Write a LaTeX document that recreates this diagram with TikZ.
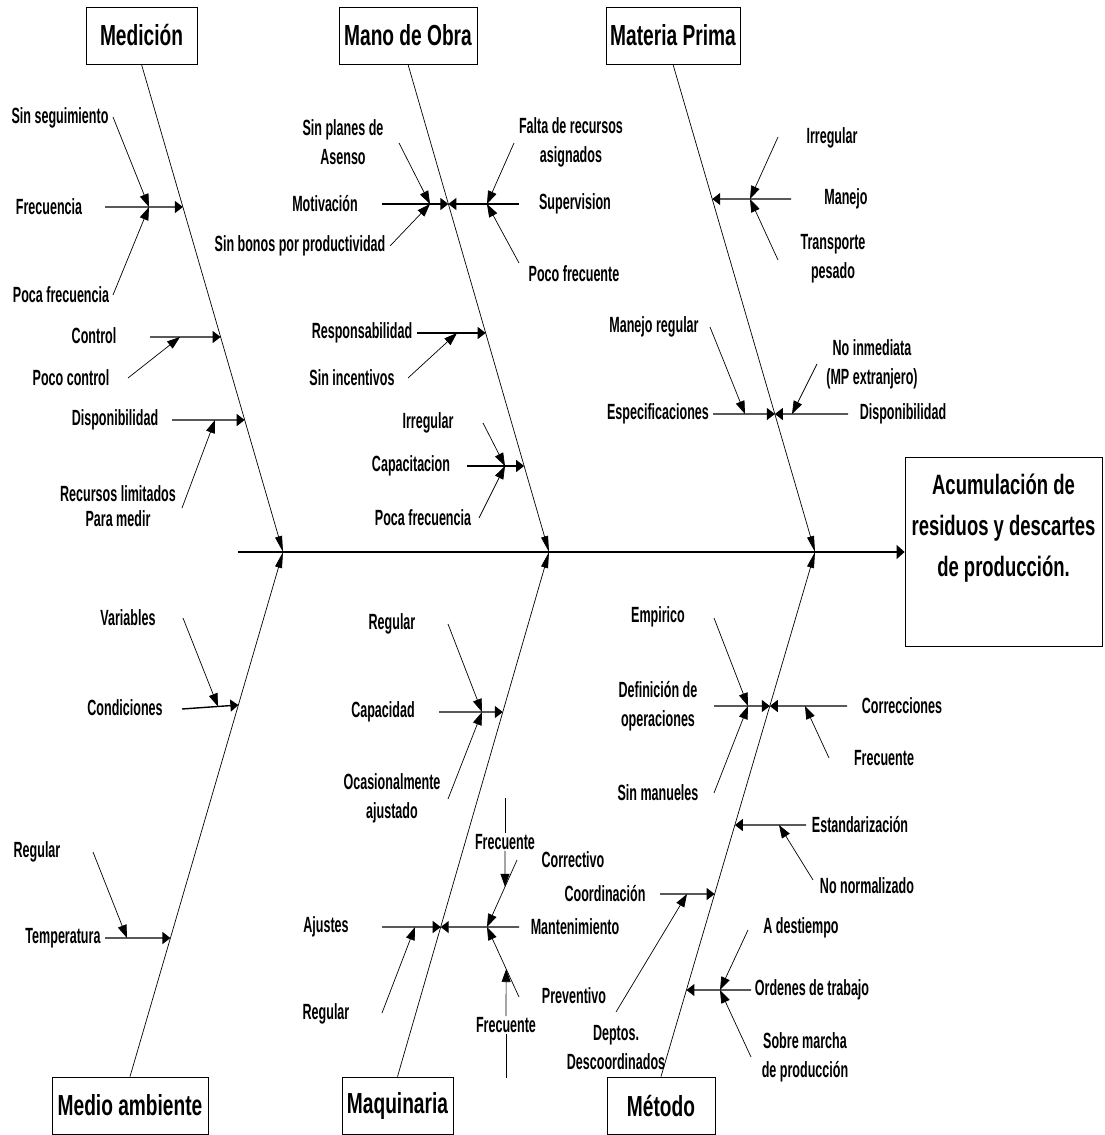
\documentclass[tikz,border=0pt]{standalone}
\usepackage{fontspec}
\setmainfont{Liberation Sans}
\newfontfamily\labelfam{Liberation Sans}[FakeStretch=0.57]
\newfontfamily\titlefam{Liberation Sans}[FakeStretch=0.66]
\usepackage{tikz}
\usetikzlibrary{arrows.meta, calc}

\begin{document}
\begin{tikzpicture}[
    x=1pt, y=-1pt,
    lbl/.style={font=\labelfam\fontsize{22}{29}\selectfont\bfseries, align=center, inner sep=1pt},
    cat/.style={draw, line width=0.8pt, minimum height=57pt, inner sep=2pt,
        font=\titlefam\fontsize{29}{30}\selectfont\bfseries},
    effbox/.style={draw, line width=0.8pt, minimum width=197pt, minimum height=189pt,
        align=center, font=\titlefam\fontsize{28}{41}\selectfont\bfseries},
    spine/.style={line width=1.4pt, -{Triangle[length=8pt,width=14pt]}},
    bone/.style={line width=0.7pt, -{Triangle[length=16pt,width=7pt]}},
    cause/.style={line width=1.4pt, -{Triangle[length=8pt,width=12pt]}},
    sub/.style={line width=0.7pt, -{Triangle[length=13pt,width=9pt]}},
    thinline/.style={line width=0.7pt},
]
\useasboundingbox (0,0) rectangle (1105,1135);

% =====================================================================
% Head and spine
% =====================================================================
\node[effbox] (eff) at (1003.5,552) {Acumulación de\\residuos y descartes\\de producción.\\\strut};
\coordinate (st) at (238,552);
\coordinate (j1) at (283,552);
\coordinate (j2) at (549,552);
\coordinate (j3) at (815,552);
\draw[spine] (st) -- (eff.west);

% --- category boxes --------------------------------------------------
\node[cat, minimum width=111pt] (med) at (141.5,35.5)  {Medición};
\node[cat, minimum width=138pt] (mo)  at (408,35.5)    {Mano de Obra};
\node[cat, minimum width=134pt] (mp)  at (673,35.5)    {Materia Prima};
\node[cat, minimum width=156pt] (ma)  at (130,1105.5)  {Medio ambiente};
\node[cat, minimum width=111pt] (maq) at (397.5,1105.5){Maquinaria};
\node[cat, minimum width=108pt] (met) at (661,1105.5)  {Método};

% --- bones -------------------------------------------------------------
\draw[bone] (med.south) -- (j1);
\draw[bone] (mo.south)  -- (j2);
\draw[bone] (mp.south)  -- (j3);
\draw[bone] (ma.north)  -- (j1);
\draw[bone] (maq.north) -- (j2);
\draw[bone] (met.north) -- (j3);

% =====================================================================
% Medicion
% =====================================================================
\node[lbl] (sinseg)  at (60,118)  {Sin seguimiento};
\node[lbl] (frec1)   at (49,207)  {Frecuencia};
\node[lbl] (pocafr1) at (61,295)  {Poca frecuencia};
\node[lbl] (control) at (94,336)  {Control};
\node[lbl] (pococtl) at (71,378)  {Poco control};
\node[lbl] (dispo1)  at (115,420) {Disponibilidad};
\node[lbl] (recurs)  at (118,506) {Recursos limitados\\[-4pt]Para medir};

\coordinate (c11) at (intersection of med.south--j1 and 0,207--1,207);
\coordinate (t11) at (105,207);  \coordinate (s11) at (149,207);
\coordinate (t11a) at (113,117); \coordinate (t11b) at (113,295);
\draw[cause] (t11) -- (c11);
\draw[sub] (t11a) -- (s11);
\draw[sub] (t11b) -- (s11);

\coordinate (c12) at (intersection of med.south--j1 and 0,337--1,337);
\coordinate (t12) at (150,337);  \coordinate (s12) at (180,337);
\coordinate (t12a) at (128,378);
\draw[cause] (t12) -- (c12);
\draw[sub] (t12a) -- (s12);

\coordinate (c13) at (intersection of med.south--j1 and 0,420--1,420);
\coordinate (t13) at (172,420);  \coordinate (s13) at (215,420);
\coordinate (t13a) at (182,508);
\draw[cause] (t13) -- (c13);
\draw[sub] (t13a) -- (s13);

% =====================================================================
% Mano de Obra
% =====================================================================
\node[lbl] (planes)    at (343,142) {Sin planes de\\Asenso};
\node[lbl] (motiv)     at (325,204) {Motivación};
\node[lbl] (bonos)     at (300,246) {Sin bonos por productividad};
\node[lbl] (falta)     at (571,142) {Falta de recursos\\asignados};
\node[lbl] (superv)    at (575,204) {Supervision};
\node[lbl] (pocofr)    at (574,274) {Poco frecuente};
\node[lbl] (respon)    at (362,333) {Responsabilidad};
\node[lbl] (sinincent) at (352,378) {Sin incentivos};
\node[lbl] (irreg1)    at (428,423) {Irregular};
\node[lbl] (capac)     at (411,466) {Capacitacion};
\node[lbl] (pocafr2)   at (423,518) {Poca frecuencia};

\coordinate (c21) at (intersection of mo.south--j2 and 0,204--1,204);
\coordinate (t21L) at (382,204); \coordinate (t21R) at (519,204);
\coordinate (s21L) at (430,204); \coordinate (s21R) at (487,204);
\coordinate (t21a) at (399,143); \coordinate (t21b) at (390,246);
\coordinate (t21c) at (514,143); \coordinate (t21d) at (519,263);
\draw[cause] (t21L) -- (c21);
\draw[cause] (t21R) -- (c21);
\draw[sub] (t21a) -- (s21L);
\draw[sub] (t21b) -- (s21L);
\draw[sub] (t21c) -- (s21R);
\draw[sub] (t21d) -- (s21R);

\coordinate (c22) at (intersection of mo.south--j2 and 0,333--1,333);
\coordinate (t22) at (417,333);  \coordinate (s22) at (457,333);
\coordinate (t22a) at (408,378);
\draw[cause] (t22) -- (c22);
\draw[sub] (t22a) -- (s22);

\coordinate (c23) at (intersection of mo.south--j2 and 0,466--1,466);
\coordinate (t23) at (467,466);  \coordinate (s23) at (505,466);
\coordinate (t23a) at (483,423); \coordinate (t23b) at (479,518);
\draw[cause] (t23) -- (c23);
\draw[sub] (t23a) -- (s23);
\draw[sub] (t23b) -- (s23);

% =====================================================================
% Materia Prima
% =====================================================================
\node[lbl] (irreg2)  at (832,138) {Irregular};
\node[lbl] (manejo)  at (846,199) {Manejo};
\node[lbl] (transp)  at (833,259) {Transporte\\pesado};
\node[lbl] (manreg)  at (654,327) {Manejo regular};
\node[lbl] (especif) at (658,414) {Especificaciones};
\node[lbl] (noinm)   at (872,364) {No inmediata\\(MP extranjero)};
\node[lbl] (dispo2)  at (903,414) {Disponibilidad};

\coordinate (c31) at (intersection of mp.south--j3 and 0,199--1,199);
\coordinate (t31) at (791,199);  \coordinate (s31) at (750,199);
\coordinate (t31a) at (778,137); \coordinate (t31b) at (778,260);
\draw[cause] (t31) -- (c31);
\draw[sub] (t31a) -- (s31);
\draw[sub] (t31b) -- (s31);

\coordinate (c32) at (intersection of mp.south--j3 and 0,414--1,414);
\coordinate (t32L) at (713,414); \coordinate (t32R) at (848,414);
\coordinate (s32L) at (745,414); \coordinate (s32R) at (792,414);
\coordinate (t32a) at (710,327); \coordinate (t32b) at (817,364);
\draw[cause] (t32L) -- (c32);
\draw[cause] (t32R) -- (c32);
\draw[sub] (t32a) -- (s32L);
\draw[sub] (t32b) -- (s32R);

% =====================================================================
% Medio ambiente
% =====================================================================
\node[lbl] (variab) at (128,618) {Variables};
\node[lbl] (condic) at (125,708) {Condiciones};
\node[lbl] (regul1) at (37,852)  {Regular};
\node[lbl] (temper) at (63,938)  {Temperatura};

\coordinate (c41) at (intersection of ma.north--j1 and 0,705--1,705);
\coordinate (t41) at (182,709);  \coordinate (s41) at (218,706.5);
\coordinate (t41a) at (183,618);
\draw[cause] (t41) -- (c41);
\draw[sub] (t41a) -- (s41);

\coordinate (c42) at (intersection of ma.north--j1 and 0,938--1,938);
\coordinate (t42) at (105,938);  \coordinate (s42) at (127,938);
\coordinate (t42a) at (93,852);
\draw[cause] (t42) -- (c42);
\draw[sub] (t42a) -- (s42);

% =====================================================================
% Maquinaria
% =====================================================================
\node[lbl] (regul2)  at (392,624)  {Regular};
\node[lbl] (capacid) at (383,712)  {Capacidad};
\node[lbl] (ocas)    at (392,798)  {Ocasionalmente\\ajustado};
\node[lbl] (ajust)   at (326,927)  {Ajustes};
\node[lbl] (regul3)  at (326,1014) {Regular};
\node[lbl] (frq1)    at (505,842)  {Frecuente};
\node[lbl] (correct) at (573,860)  {Correctivo};
\node[lbl] (manten)  at (575,927)  {Mantenimiento};
\node[lbl] (prevent) at (574,996)  {Preventivo};
\node[lbl] (frq2)    at (506,1025) {Frecuente};

\coordinate (c51) at (intersection of maq.north--j2 and 0,712--1,712);
\coordinate (t51) at (439,712);  \coordinate (s51) at (482,712);
\coordinate (t51a) at (448,624); \coordinate (t51b) at (448,799);
\draw[cause] (t51) -- (c51);
\draw[sub] (t51a) -- (s51);
\draw[sub] (t51b) -- (s51);

\coordinate (c52) at (intersection of maq.north--j2 and 0,927--1,927);
\coordinate (t52L) at (382,927); \coordinate (t52R) at (519,927);
\coordinate (s52L) at (415,927); \coordinate (s52R) at (487,927);
\coordinate (t52a) at (382,1013); \coordinate (t52b) at (517,860);
\coordinate (t52c) at (519,997);
\draw[cause] (t52L) -- (c52);
\draw[cause] (t52R) -- (c52);
\draw[sub] (t52a) -- (s52L);
\draw[sub] (t52b) -- (s52R);
\draw[sub] (t52c) -- (s52R);

% "Frecuente" feeds onto the two maintenance branches
\coordinate (f1) at (505,798);
\coordinate (f2) at (506,1078);
\coordinate (p52b) at ($(t52b)!0.4!(s52R)$);
\coordinate (p52c) at ($(t52c)!0.4!(s52R)$);
\draw[thinline] (f1) -- (frq1.north);
\draw[sub] (frq1.south) -- (p52b);
\draw[thinline] (f2) -- (frq2.south);
\draw[sub] (frq2.north) -- (p52c);

% =====================================================================
% Metodo
% =====================================================================
\node[lbl] (empir)   at (658,617)  {Empirico};
\node[lbl] (defop)   at (658,706)  {Definición de\\operaciones};
\node[lbl] (sinman)  at (658,793)  {Sin manueles};
\node[lbl] (correc)  at (902,706)  {Correcciones};
\node[lbl] (frq3)    at (884,758)  {Frecuente};
\node[lbl] (estand)  at (860,825)  {Estandarización};
\node[lbl] (nonorm)  at (867,886)  {No normalizado};
\node[lbl] (coord)   at (605,894)  {Coordinación};
\node[lbl] (deptos)  at (616,1048) {Deptos.\\Descoordinados};
\node[lbl] (adest)   at (801,928)  {A destiempo};
\node[lbl] (ordenes) at (812,990)  {Ordenes de trabajo};
\node[lbl] (sobre)   at (805,1057) {Sobre marcha\\de producción};

\coordinate (c61) at (intersection of met.north--j3 and 0,706--1,706);
\coordinate (t61L) at (714,706); \coordinate (t61R) at (847,706);
\coordinate (s61L) at (748,706); \coordinate (s61R) at (805,706);
\coordinate (t61a) at (714,618); \coordinate (t61b) at (714,793);
\coordinate (t61c) at (829,758);
\draw[cause] (t61L) -- (c61);
\draw[cause] (t61R) -- (c61);
\draw[sub] (t61a) -- (s61L);
\draw[sub] (t61b) -- (s61L);
\draw[sub] (t61c) -- (s61R);

\coordinate (c62) at (intersection of met.north--j3 and 0,825--1,825);
\coordinate (t62) at (806,825);  \coordinate (s62) at (779,825);
\coordinate (t62a) at (813,880);
\draw[cause] (t62) -- (c62);
\draw[sub] (t62a) -- (s62);

\coordinate (c63) at (intersection of met.north--j3 and 0,894--1,894);
\coordinate (t63) at (660,894);  \coordinate (s63) at (687,894);
\coordinate (t63a) at (616,1012);
\draw[cause] (t63) -- (c63);
\draw[sub] (t63a) -- (s63);

\coordinate (c64) at (intersection of met.north--j3 and 0,990--1,990);
\coordinate (t64) at (751,990);  \coordinate (s64) at (720,990);
\coordinate (t64a) at (748,930); \coordinate (t64b) at (751,1057);
\draw[cause] (t64) -- (c64);
\draw[sub] (t64a) -- (s64);
\draw[sub] (t64b) -- (s64);

\end{tikzpicture}
\end{document}
